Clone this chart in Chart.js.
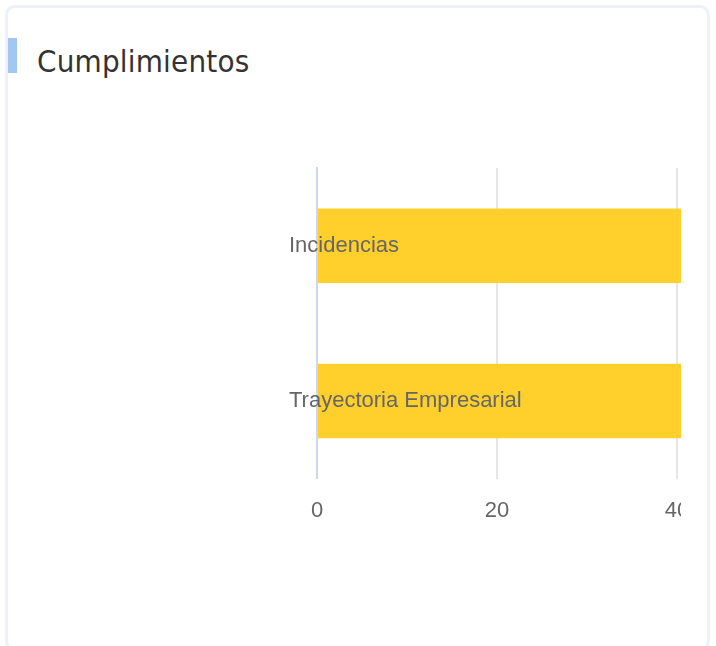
<!DOCTYPE html>
<html>
<head>
<meta charset="utf-8">
<script src="https://cdn.jsdelivr.net/npm/chart.js@4"></script>
<style>
  html, body { margin: 0; padding: 0; background: #ffffff; width: 716px; height: 646px; overflow: hidden; }
  .card { position: absolute; left: 5px; top: 5px; width: 699px; height: 640px; border: 3px solid #eef2f8; border-radius: 10px; background: #fff; }
  .mark { position: absolute; left: 8px; top: 38px; width: 9px; height: 35px; background: #a3c6f2; }
  .title { position: absolute; left: 37px; top: 39px; font-family: "DejaVu Sans Condensed", sans-serif; font-stretch: condensed; font-size: 31px; letter-spacing: 0.2px; color: #333; line-height: 44px; }
  .wrap { position: absolute; left: 20px; top: 100px; width: 661px; height: 460px; overflow: hidden; }
</style>
</head>
<body>
<div class="card"></div>
<div class="mark"></div>
<div class="title">Cumplimientos</div>
<div class="wrap"><canvas id="c" width="880" height="460" style="width:880px;height:460px"></canvas></div>
<script>
const categories = ["Incidencias", "Trayectoria Empresarial"];
const values = [50, 50];
const xMin = 0;
const xMax = 60;
const xStep = 20;

new Chart(document.getElementById('c'), {
  type: 'bar',
  data: {
    labels: categories,
    datasets: [{
      data: values,
      backgroundColor: '#ffcf2c',
      borderWidth: 0,
      barPercentage: 0.8,
      categoryPercentage: 0.6
    }]
  },
  options: {
    indexAxis: 'y',
    responsive: false,
    animation: false,
    layout: { padding: { left: 297, top: 68, right: 43, bottom: 17 } },
    plugins: { legend: { display: false }, tooltip: { enabled: false } },
    scales: {
      x: {
        min: xMin, max: xMax,
        ticks: { stepSize: xStep, color: '#666', padding: 19, font: { family: '"Liberation Sans", Arial, sans-serif', size: 22 } },
        grid: { color: '#e6e6e6', lineWidth: 2, drawTicks: false },
        border: { display: false }
      },
      y: {
        afterFit: s => { s.width = 0; },
        ticks: { z: 1, mirror: true, padding: -28, color: '#666', font: { family: '"Liberation Sans", Arial, sans-serif', size: 22 } },
        grid: { display: false, drawTicks: false },
        border: { display: true, color: '#cdd7ee', width: 2 }
      }
    }
  }
});
</script>
</body>
</html>
